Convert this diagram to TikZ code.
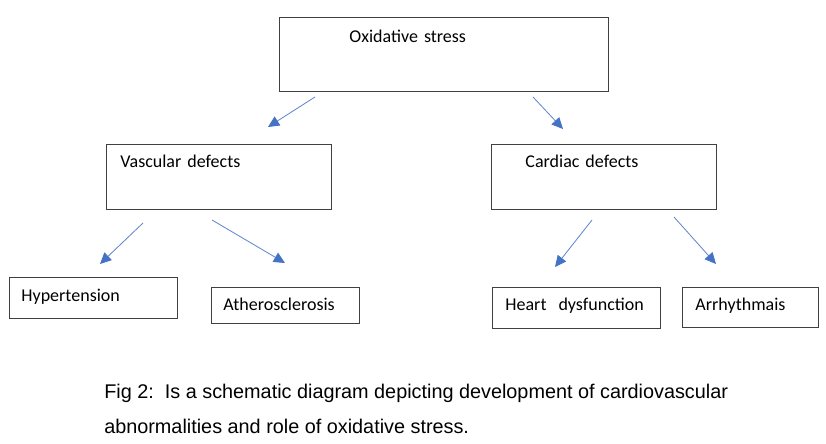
\documentclass[tikz,border=0pt]{standalone}
\usepackage{fontspec}
\setmainfont{Carlito}
\newfontfamily\capfont{Liberation Sans}
\usetikzlibrary{arrows.meta}
\definecolor{arrowline}{RGB}{100,135,205}
\definecolor{arrowhead}{RGB}{68,114,196}

\begin{document}
\begin{tikzpicture}
    [
        x=0.025cm, y=-0.025cm,
        box/.style = {draw=black!75, shape=rectangle, line width=0.6pt, anchor=north west, align=left, inner ysep=0pt, font=\fontsize{12.8}{15}\selectfont},
        arrow/.style = {draw=arrowline, line width=0.6pt, -{Triangle[length=8pt,width=7.5pt,color=arrowhead]}},
    ]
    \useasboundingbox (0,0) rectangle (826,444);

    % boxes
    \node[box, inner xsep=1.75cm, text width=4.725cm, text height=0.625cm, text depth=1.225cm] (ox) at (279,17) {Oxidative stress};
    \node[box, inner xsep=0.35cm, text width=4.925cm, text height=0.575cm, text depth=1.05cm] (vasc) at (106,144) {Vascular defects};
    \node[box, inner xsep=0.85cm, text width=3.925cm, text height=0.575cm, text depth=1.05cm] (card) at (491,144) {Cardiac defects};
    \node[box, inner xsep=0.3cm, text width=3.6cm, text height=0.6cm, text depth=0.425cm] (hyp) at (9,277) {Hypertension};
    \node[box, inner xsep=0.3cm, text width=3.1cm, text height=0.575cm, text depth=0.325cm] (ath) at (211,287) {Atherosclerosis};
    \node[box, inner xsep=0.325cm, text width=3.55cm, text height=0.575cm, text depth=0.45cm] (heart) at (492,287) {Heart\ \ dysfunction};
    \node[box, inner xsep=0.325cm, text width=2.75cm, text height=0.575cm, text depth=0.425cm] (arr) at (682,287) {Arrhythmais};

    % arrow ends
    \coordinate (ox-l) at (315,97);
    \coordinate (ox-r) at (533,97);
    \coordinate (vasc-in) at (268,127);
    \coordinate (card-in) at (563,129);
    \coordinate (vasc-l) at (143,223);
    \coordinate (vasc-r) at (212,220);
    \coordinate (hyp-in) at (100,264);
    \coordinate (ath-in) at (285,263);
    \coordinate (card-l) at (592,220);
    \coordinate (card-r) at (674,217);
    \coordinate (heart-in) at (555,267);
    \coordinate (arr-in) at (716,264);

    \draw[arrow] (ox-l) -- (vasc-in);
    \draw[arrow] (ox-r) -- (card-in);
    \draw[arrow] (vasc-l) -- (hyp-in);
    \draw[arrow] (vasc-r) -- (ath-in);
    \draw[arrow] (card-l) -- (heart-in);
    \draw[arrow] (card-r) -- (arr-in);

    % caption
    \node[anchor=base west, inner sep=0pt, align=left, font=\capfont\fontsize{14.1}{24.2}\selectfont] (caption) at (104,433)
        {Fig 2:\ \ Is a schematic diagram depicting development of cardiovascular\\abnormalities and role of oxidative stress.};
\end{tikzpicture}
\end{document}
